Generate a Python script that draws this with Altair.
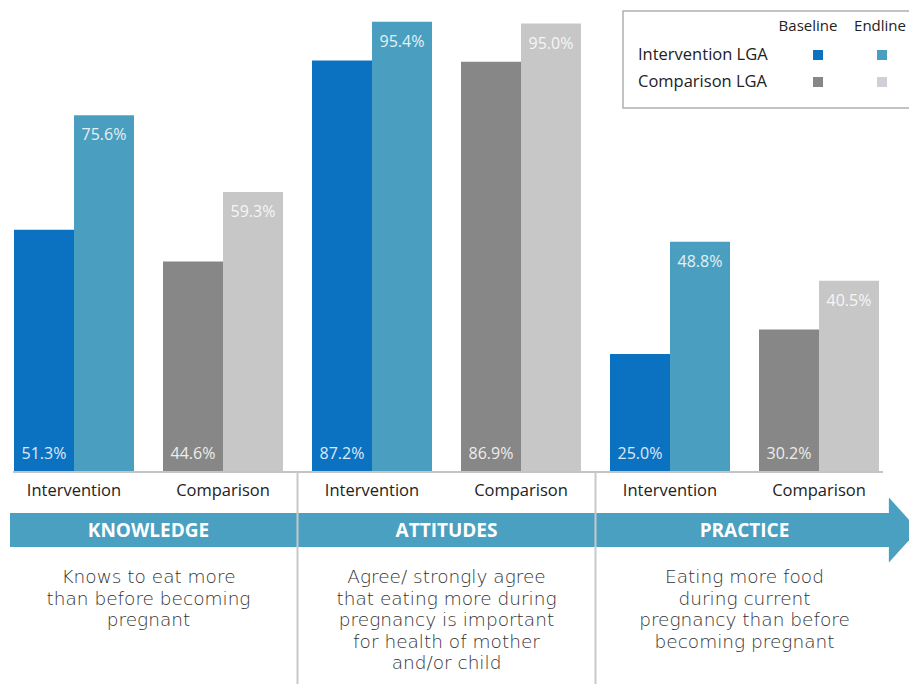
import altair as alt
import pandas as pd

sections = ["KNOWLEDGE", "ATTITUDES", "PRACTICE"]
groups = ["Intervention", "Comparison"]
periods = ["Baseline", "Endline"]
baseline = [51.3, 44.6, 87.2, 86.9, 25.0, 30.2]
endline = [75.6, 59.3, 95.4, 95.0, 48.8, 40.5]
descriptions = [
    "Knows to eat more\nthan before becoming\npregnant",
    "Agree/ strongly agree\nthat eating more during\npregnancy is important\nfor health of mother\nand/or child",
    "Eating more food\nduring current\npregnancy than before\nbecoming pregnant",
]
legend_rows = ["Intervention LGA", "Comparison LGA"]
series_names = ["Intervention Baseline", "Intervention Endline", "Comparison Baseline", "Comparison Endline"]
series_colors = ["#0b72c2", "#4a9fc1", "#878787", "#c7c7c7"]
legend_colors = ["#0b72c2", "#4a9fc1", "#878787", "#d3cdd6"]
arrow_color = "#4aa0c0"

rows = []
keys = []
for si, s in enumerate(sections):
    for gi, g in enumerate(groups):
        k = f"{s} {g}"
        keys.append(k)
        i = si * 2 + gi
        for p, vals in zip(periods, [baseline, endline]):
            rows.append(dict(section=s, group=g, key=k, period=p, value=vals[i],
                             series=f"{g} {p}", label=f"{vals[i]:.1f}%"))
df = pd.DataFrame(rows)
sec_df = pd.DataFrame({
    "section": sections,
    "key": [f"{s} Comparison" for s in sections],
    "desc": descriptions,
})
div_df = pd.DataFrame({"key": [f"{s} Intervention" for s in sections[1:]]})
one = pd.DataFrame({"n": [0]})

FONT = "Open Sans"
DESC_FONT = "DejaVu Sans"
xscale = alt.Scale(domain=keys, range=[-8.5, 885.5], paddingInner=0, paddingOuter=0)
yscale = alt.Scale(domain=[0, 100], range=[464, -8])
xoff = alt.XOffset("period:N", scale=alt.Scale(domain=periods, paddingInner=0, paddingOuter=0.2417))
X = alt.X("key:N", scale=xscale, axis=None)
Y = alt.Y("value:Q", scale=yscale, axis=None)

base = alt.Chart(df)

bars = base.mark_bar(strokeWidth=0).encode(
    x=X, xOffset=xoff, y=Y,
    color=alt.Color("series:N", scale=alt.Scale(domain=series_names, range=series_colors), legend=None),
)

end_labels = base.transform_filter(alt.datum.period == "Endline").mark_text(
    font=FONT, fontSize=16, color="white", opacity=0.85, dy=20
).encode(x=X, xOffset=xoff, y=Y, text="label:N")

base_labels = base.transform_filter(alt.datum.period == "Baseline").mark_text(
    font=FONT, fontSize=16, color="white", opacity=0.85, dy=-18
).encode(x=X, xOffset=xoff, y=alt.datum(0, scale=yscale), text="label:N")

axis_line = alt.Chart(one).mark_rule(color="#c4c4c4", strokeWidth=2).encode(
    x=alt.value(5), x2=alt.value(875), y=alt.datum(0, scale=yscale)
)

group_labels = base.transform_filter(alt.datum.period == "Baseline").mark_text(
    font=FONT, fontSize=16.5, color="#222222"
).encode(x=X, y=alt.value(483), text="group:N")

arrow_band = alt.Chart(one).mark_rect(color=arrow_color).encode(
    x=alt.value(2), x2=alt.value(881), y=alt.value(505), y2=alt.value(539)
)
arrow_head = alt.Chart(one).mark_point(
    shape="M -0.45 -1 L 0.45 0 L -0.45 1 Z", filled=True, opacity=1, strokeWidth=0, color=arrow_color, size=4225
).encode(x=alt.value(895.5), y=alt.value(522))

dividers = alt.Chart(div_df).mark_rule(color="#c8c8c8", strokeWidth=2).encode(
    x=alt.X("key:N", scale=xscale, axis=None, bandPosition=0), y=alt.value(464), y2=alt.value(676)
)

sec_labels = alt.Chart(sec_df).mark_text(
    font=FONT, fontSize=19, fontWeight="bold", color="white"
).encode(x=alt.X("key:N", scale=xscale, axis=None, bandPosition=0), y=alt.value(523), text="section:N")

desc_text = alt.Chart(sec_df).mark_text(
    font=DESC_FONT, fontSize=18.5, fontWeight=200, color="#333333", baseline="top", lineBreak="\n", lineHeight=21.5
).encode(x=alt.X("key:N", scale=xscale, axis=None, bandPosition=0), y=alt.value(560), text="desc:N")

legend_box = alt.Chart(one).mark_rect(fill="white", stroke="#b0b0b0", strokeWidth=1.5).encode(
    x=alt.value(615), x2=alt.value(918), y=alt.value(3), y2=alt.value(100)
)
legend_layers = [legend_box]
col_x = [800, 872]
sq_x = [810, 874]
row_y = [47, 74]
for pi, p in enumerate(periods):
    legend_layers.append(alt.Chart(one).mark_text(font=FONT, fontSize=15, color="#222222", text=p).encode(
        x=alt.value(col_x[pi]), y=alt.value(18)))
for ri, r in enumerate(legend_rows):
    legend_layers.append(alt.Chart(one).mark_text(font=FONT, fontSize=16.5, color="#222222", align="left", text=r).encode(
        x=alt.value(630), y=alt.value(row_y[ri])))
    for pi in range(2):
        legend_layers.append(alt.Chart(one).mark_square(size=100, opacity=1, color=legend_colors[ri * 2 + pi]).encode(
            x=alt.value(sq_x[pi]), y=alt.value(row_y[ri])))

chart = alt.layer(
    bars, end_labels, base_labels, axis_line, group_labels, arrow_band, arrow_head, dividers,
    sec_labels, desc_text, *legend_layers
).properties(
    width=901, height=676, autosize=alt.AutoSizeParams(type="none"), padding=0
).configure_view(stroke=None)

chart.save("out.html", embed_options={"renderer": "svg", "actions": False})
